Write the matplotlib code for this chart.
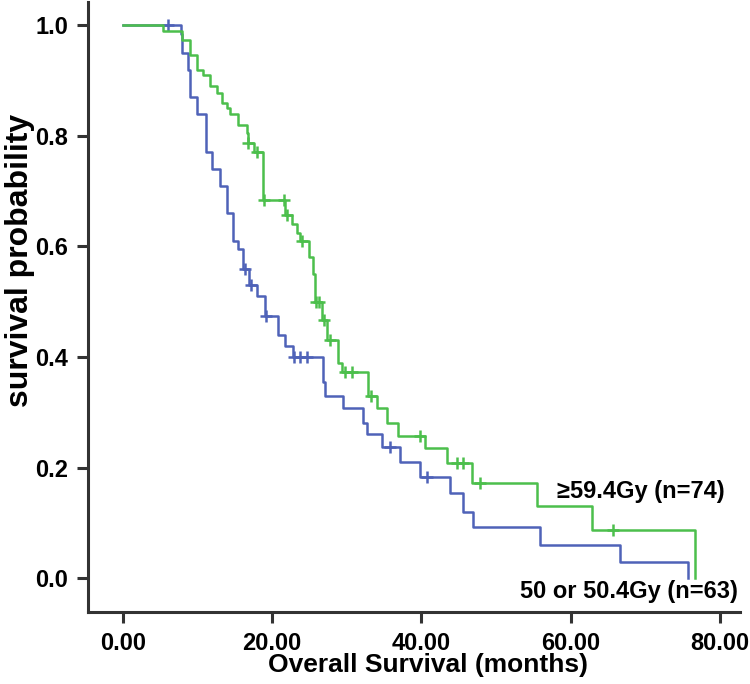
import matplotlib
matplotlib.use("Agg")
import matplotlib.pyplot as plt
import numpy as np

# 50 or 50.4Gy group (n=63): event times (months) and survival after each step
low_times = [7.8, 7.9, 8.7, 9.0, 10.0, 11.1, 11.9, 13.0, 13.9, 14.7, 15.4, 16.1,
             16.9, 18.0, 19.0, 20.8, 21.7, 22.8, 26.8, 27.1, 29.5, 32.2, 32.7,
             34.7, 37.1, 39.8, 43.8, 45.6, 46.9, 55.9, 66.6, 75.7]
low_surv = [0.985, 0.95, 0.92, 0.87, 0.84, 0.77, 0.74, 0.71, 0.66, 0.61, 0.595, 0.56,
            0.53, 0.51, 0.475, 0.44, 0.42, 0.40, 0.355, 0.33, 0.307, 0.28, 0.26,
            0.237, 0.21, 0.183, 0.154, 0.12, 0.092, 0.06, 0.03, 0.0]
low_censor = [6.0, 16.3, 17.2, 19.2, 22.9, 23.7, 24.7, 35.8, 40.7]

# >=59.4Gy group (n=74)
high_times = [5.4, 7.9, 9.0, 9.9, 10.7, 11.7, 12.6, 13.3, 13.9, 14.3, 15.4, 16.6,
              16.75, 17.55, 18.8, 21.7, 22.6, 23.3, 23.7, 24.9, 25.5, 25.7, 26.7,
              27.3, 28.8, 29.3, 32.8, 34.0, 35.4, 36.9, 40.5, 43.4, 46.8, 55.5,
              62.8, 76.7]
high_surv = [0.99, 0.973, 0.946, 0.92, 0.91, 0.89, 0.877, 0.86, 0.85, 0.84, 0.82, 0.805,
             0.787, 0.77, 0.684, 0.656, 0.64, 0.624, 0.61, 0.58, 0.55, 0.50, 0.467,
             0.43, 0.39, 0.373, 0.33, 0.307, 0.28, 0.258, 0.235, 0.208, 0.172, 0.13,
             0.087, 0.0]
high_censor = [16.8, 18.0, 18.9, 21.6, 22.0, 24.0, 25.9, 26.3, 26.9, 27.8, 29.8,
               30.7, 33.2, 39.8, 44.8, 45.6, 47.8, 65.7]

x_ticks = [0, 20, 40, 60, 80]
y_ticks = [0.0, 0.2, 0.4, 0.6, 0.8, 1.0]

BLUE = "#4f62b8"
GREEN = "#4cbf4c"
FONT = ["Liberation Sans Narrow", "Liberation Sans", "DejaVu Sans"]


def km_curve(times, surv):
    xs = [0.0] + list(times)
    ys = [1.0] + list(surv)
    return np.array(xs), np.array(ys)


def surv_at(t, times, surv):
    s = 1.0
    for ti, si in zip(times, surv):
        if ti <= t:
            s = si
    return s


plt.rcParams["font.family"] = FONT
plt.rcParams["font.weight"] = "bold"

fig = plt.figure(figsize=(7.5, 6.84), dpi=100)
ax = fig.add_axes([0.117, 0.105, 0.87, 0.892])

for times, surv, cens, col in [(low_times, low_surv, low_censor, BLUE),
                               (high_times, high_surv, high_censor, GREEN)]:
    xs, ys = km_curve(times, surv)
    ax.step(xs, ys, where="post", color=col, lw=1.8)
    cy = [surv_at(c, times, surv) for c in cens]
    ax.plot(cens, cy, ls="none", marker="+", ms=9, mew=1.8, color=col)

ax.text(58.2, 0.157, "\u226559.4Gy (n=74)", fontsize=17, fontweight="bold",
        ha="left", va="center", family=FONT)
ax.text(82.4, -0.024, "50 or 50.4Gy (n=63)", fontsize=17, fontweight="bold",
        ha="right", va="center", family=FONT)

ax.set_xlim(-4.7, 82.7)
ax.set_ylim(-0.0615, 1.042)
ax.set_xticks(x_ticks)
ax.set_xticklabels([f"{v:.2f}" for v in x_ticks])
ax.set_yticks(y_ticks)
ax.set_yticklabels([f"{v:.1f}" for v in y_ticks])

for side in ["top", "right"]:
    ax.spines[side].set_visible(False)
for side in ["left", "bottom"]:
    ax.spines[side].set_linewidth(2.2)
    ax.spines[side].set_color("#333333")
ax.tick_params(axis="both", direction="out", length=8, width=2.2, color="#333333",
               labelsize=17, pad=6)
for lab in ax.get_xticklabels() + ax.get_yticklabels():
    lab.set_fontweight("bold")

ax.set_xlabel("Overall Survival (months)", fontsize=19, fontweight="bold", va="center")
ax.xaxis.set_label_coords(0.521, -0.087)
ax.set_ylabel("survival probability", fontsize=23, fontweight="bold", va="center")
ax.yaxis.set_label_coords(-0.104, 0.577)

fig.savefig("out.png", dpi=100)
